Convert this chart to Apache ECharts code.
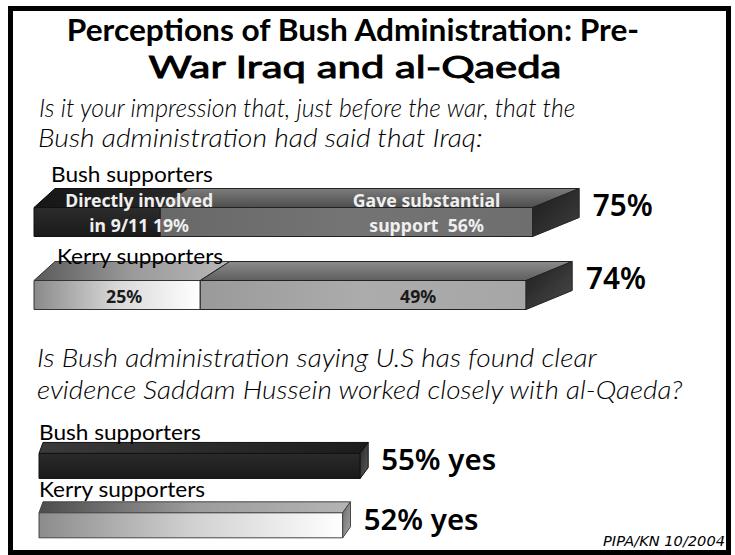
<!DOCTYPE html>
<html>
<head>
<meta charset="utf-8">
<script src="https://cdn.jsdelivr.net/npm/echarts@6/dist/echarts.min.js"></script>
<style>
html,body{margin:0;padding:0;background:#fff;}
#chart{width:735px;height:555px;}
</style>
</head>
<body>
<div id="chart"></div>
<script>
// ---------------- DATA ----------------
const groups = ['Bush supporters', 'Kerry supporters'];
// Q1: what the Bush administration said Iraq had done (percent of each group)
const directlyInvolved = [19, 25];   // "Directly involved in 9/11"
const gaveSupport = [56, 49];        // "Gave substantial support"
const totals = [75, 74];             // combined share
// Q2: administration says U.S. found clear evidence (percent "yes")
const saidClearEvidence = [55, 52];

const titleLines = ['Perceptions of Bush Administration: Pre-', 'War Iraq and al-Qaeda'];
const question1Lines = ['Is it your impression that, just before the war, that the', 'Bush administration had said that Iraq:'];
const question2Lines = ['Is Bush administration saying U.S has found clear', 'evidence Saddam Hussein worked closely with al-Qaeda?'];
const sourceNote = 'PIPA/KN 10/2004';

// ---------------- FONT HELPERS ----------------
const F_TITLE = "Lato, 'Noto Sans', sans-serif";
const F_ITAL = "Lato, 'Noto Sans', sans-serif";
const F_LAB = "Lato, 'DejaVu Sans', sans-serif";
const F_NOTE = "'DejaVu Sans', sans-serif";
const F_NUM = "'Noto Sans', sans-serif";
const mctx = document.createElement('canvas').getContext('2d');
function measure(text, family, weight, style, size) {
  mctx.font = style + ' ' + weight + ' ' + size + 'px ' + family;
  return mctx.measureText(text).width;
}
function fitSize(text, family, weight, style, target) {
  return 40 * target / measure(text, family, weight, style, 40);
}
// text element whose font size follows the cap height and whose width is matched with scaleX
function scaledText(text, o) {
  const w = measure(text, o.family, o.weight || 'normal', o.style || 'normal', o.size);
  const st = {text: text, x: 0, y: 0, fill: '#000', fontFamily: o.family, fontWeight: o.weight || 'normal',
      fontStyle: o.style || 'normal', fontSize: o.size, align: o.align || 'left', verticalAlign: 'middle'};
  if (o.stroke) { st.stroke = '#000'; st.lineWidth = o.stroke; }
  return {type: 'text', z: 100, x: o.x, y: o.y, scaleX: o.width / w, style: st};
}
const sNote = fitSize(sourceNote, F_NOTE, 'normal', 'italic', 122);
const sGroup = 22;
const gScale = 162 / measure(groups[0], F_LAB, 'normal', 'normal', sGroup);
const sInner = fitSize('Directly involved', F_NUM, 'bold', 'normal', 148);
const sTotal = fitSize('75%', F_NUM, '600', 'normal', 60);
const sYes = fitSize('55% yes', F_NUM, '600', 'normal', 115);

// ---------------- STYLE ----------------
const LG = (x, y, x2, y2, stops) => new echarts.graphic.LinearGradient(x, y, x2, y2,
  stops.map((c, i) => ({offset: i / (stops.length - 1), color: c})));

const topStyles = {
  seg1: [
    {front: LG(0,0,0,1,['#2c2c2c','#1a1a1a']), top: LG(0,0,1,0,['#161616','#2a2a2a']), edge:'#111',
     label:'#efefef', shift: 42, dy: -9.5},
    {front: LG(0,0,1,0,['#8a8a8a','#d8d8d8','#ffffff']), top: LG(0,0,1,0,['#5a5a5a','#9a9a9a','#b8b8b8']), edge:'#333',
     label:'#1a1a1a', shift: 7, dy: 1}
  ],
  seg2: [
    {front: LG(0,0,1,0,['#686868','#747474','#6e6e6e']), top: LG(0,0,0,1,['#7c7c7c','#4e4e4e']), edge:'#222',
     side: LG(0,0,1,1,['#1c1c1c','#3e3e3e']), label:'#efefef', shift: 80, dy: -9.5},
    {front: LG(0,0,1,0,['#9a9a9a','#acacac','#a6a6a6']), top: LG(0,0,0,1,['#8c8c8c','#5e5e5e']), edge:'#222',
     side: LG(0,0,1,1,['#1e1e1e','#4a4a4a']), label:'#1a1a1a', shift: 55, dy: 1}
  ]
};
const bottomStyles = [
  {front: LG(0,0,0,1,['#2a2a2a','#1a1a1a']), top: LG(0,0,1,0,['#3a3a3a','#1c1c1c']), side: LG(0,0,1,1,['#2a2a2a','#5a5a5a']), edge:'#111'},
  {front: LG(0,0,1,0,['#8c8c8c','#d0d0d0','#ffffff']), top: LG(0,0,1,0,['#4c4c4c','#9c9c9c','#b4b4b4']), side: LG(0,0,1,1,['#6a6a6a','#a8a8a8']), edge:'#444'}
];
const groupLabelPos = {
  top: [{x: 51, dy: -48}, {x: 57, dy: -39.5}],
  bottom: [{x: 39, dy: -34.5}, {x: 39, dy: -36.5}]
};

// ---------------- RENDER ----------------
function boxRender(cfg) {
  return function (params, api) {
    const s = api.value(0), e = api.value(1), ci = api.value(2);
    const a = api.coord([s, ci]), b = api.coord([e, ci]);
    const origin = api.coord([0, ci])[0];
    const st = cfg.styles[ci];
    const h = cfg.h, dy = cfg.dy;
    const dxF = px => cfg.dx0 + cfg.dxk * (px - origin);
    const L = a[0], R = b[0], cy = a[1];
    const yT = cy - h / 2, yB = cy + h / 2;
    const dL = dxF(L), dR = dxF(R);
    const children = [];
    children.push({type: 'polygon', shape: {points: [[L, yT], [R, yT], [R + dR, yT - dy], [L + dL, yT - dy]]},
      style: {fill: st.top, stroke: st.edge, lineWidth: 1}});
    children.push({type: 'rect', shape: {x: L, y: yT, width: R - L, height: h},
      style: {fill: st.front, stroke: st.edge, lineWidth: 1}});
    if (cfg.last) {
      children.push({type: 'polygon', shape: {points: [[R, yT], [R + dR, yT - dy], [R + dR, yB - dy], [R, yB]]},
        style: {fill: st.side, stroke: st.edge, lineWidth: 1}});
    }
    if (cfg.labelText) {
      children.push({type: 'text', z2: 10, style: {
        text: cfg.labelText(params.dataIndex), x: (L + R) / 2 + st.shift, y: cy + st.dy,
        fill: st.label, fontFamily: F_NUM, fontWeight: 'bold', fontSize: sInner,
        align: 'center', verticalAlign: 'middle', lineHeight: 25}});
    }
    if (cfg.totalText) {
      children.push({type: 'text', z2: 10, style: {
        text: cfg.totalText(params.dataIndex), x: R + cfg.totalGap, y: cy + cfg.totalDy,
        fill: '#000', fontFamily: F_NUM, fontWeight: '600', fontSize: cfg.totalSize,
        align: 'left', verticalAlign: 'middle'}});
    }
    return {type: 'group', children};
  };
}
function groupLabelRender(pos) {
  return function (params, api) {
    const ci = api.value(1);
    const c = api.coord([0, ci]);
    const p = pos[ci];
    return {type: 'text', z2: 20, x: p.x, y: c[1] + p.dy, scaleX: gScale,
      style: {text: groups[ci], x: 0, y: 0, fill: '#000', fontFamily: F_LAB, fontSize: sGroup,
        align: 'left', verticalAlign: 'middle'}};
  };
}

const topCfg = {h: 29, dy: 19, dx0: 21, dxk: 0.051};
const botCfg = {h: 25, dy: 11, dx0: 4, dxk: 0.0125};

const option = {
  animation: false,
  grid: [
    {left: 34, top: 185.5, width: 665, height: 146},
    {left: 39, top: 436.25, width: 584, height: 125}
  ],
  xAxis: [
    {gridIndex: 0, type: 'value', min: 0, max: 100, show: false},
    {gridIndex: 1, type: 'value', min: 0, max: 100, show: false}
  ],
  yAxis: [
    {gridIndex: 0, type: 'category', data: groups, inverse: true, show: false},
    {gridIndex: 1, type: 'category', data: groups, inverse: true, show: false}
  ],
  series: [
    {type: 'custom', xAxisIndex: 0, yAxisIndex: 0, encode: {x: [0, 1], y: 2},
      data: directlyInvolved.map((v, i) => [0, v, i]),
      renderItem: boxRender(Object.assign({styles: topStyles.seg1,
        labelText: i => i === 0 ? 'Directly involved\nin 9/11 ' + directlyInvolved[i] + '%' : directlyInvolved[i] + '%'}, topCfg))},
    {type: 'custom', xAxisIndex: 0, yAxisIndex: 0, encode: {x: [0, 1], y: 2},
      data: gaveSupport.map((v, i) => [directlyInvolved[i], directlyInvolved[i] + v, i]),
      renderItem: boxRender(Object.assign({styles: topStyles.seg2, last: true,
        labelText: i => i === 0 ? 'Gave substantial\nsupport  ' + gaveSupport[i] + '%' : gaveSupport[i] + '%',
        totalText: i => totals[i] + '%', totalGap: 60, totalDy: -17.5, totalSize: sTotal}, topCfg))},
    {type: 'custom', xAxisIndex: 0, yAxisIndex: 0, encode: {x: 0, y: 1}, z: 5,
      data: groups.map((g, i) => [0, i]), renderItem: groupLabelRender(groupLabelPos.top)},
    {type: 'custom', xAxisIndex: 1, yAxisIndex: 1, encode: {x: [0, 1], y: 2},
      data: saidClearEvidence.map((v, i) => [0, v, i]),
      renderItem: boxRender(Object.assign({styles: bottomStyles, last: true,
        totalText: i => saidClearEvidence[i] + '% yes', totalGap: 21, totalDy: -6.5, totalSize: sYes}, botCfg))},
    {type: 'custom', xAxisIndex: 1, yAxisIndex: 1, encode: {x: 0, y: 1}, z: 5,
      data: groups.map((g, i) => [0, i]), renderItem: groupLabelRender(groupLabelPos.bottom)}
  ],
  graphic: [
    {type: 'rect', z: 100, shape: {x: 10.5, y: 8.5, width: 718, height: 544}, style: {fill: 'none', stroke: '#000', lineWidth: 5}},
    scaledText(titleLines[0], {x: 353, y: 29, width: 574, size: 31, family: F_TITLE, weight: 'bold', align: 'center'}),
    scaledText(titleLines[1], {x: 355, y: 66.5, width: 414, size: 30, family: F_TITLE, weight: 'normal', align: 'center', stroke: 0.9}),
    scaledText(question1Lines[0], {x: 39, y: 106.5, width: 539, size: 25.5, family: F_ITAL, weight: '300', style: 'italic'}),
    scaledText(question1Lines[1], {x: 38, y: 137, width: 445, size: 25.5, family: F_ITAL, weight: '300', style: 'italic'}),
    scaledText(question2Lines[0], {x: 37, y: 357.5, width: 560, size: 25.5, family: F_ITAL, weight: '300', style: 'italic'}),
    scaledText(question2Lines[1], {x: 37, y: 389.5, width: 647, size: 25.5, family: F_ITAL, weight: '300', style: 'italic'}),
    {type: 'text', z: 100, style: {text: sourceNote, x: 725, y: 540, fill: '#000', fontFamily: F_NOTE, fontStyle: 'italic', fontSize: sNote, align: 'right', verticalAlign: 'middle'}}
  ]
};
const chart = echarts.init(document.getElementById('chart'), null, {renderer: 'svg', width: 735, height: 555});
chart.setOption(option);
</script>
</body>
</html>
